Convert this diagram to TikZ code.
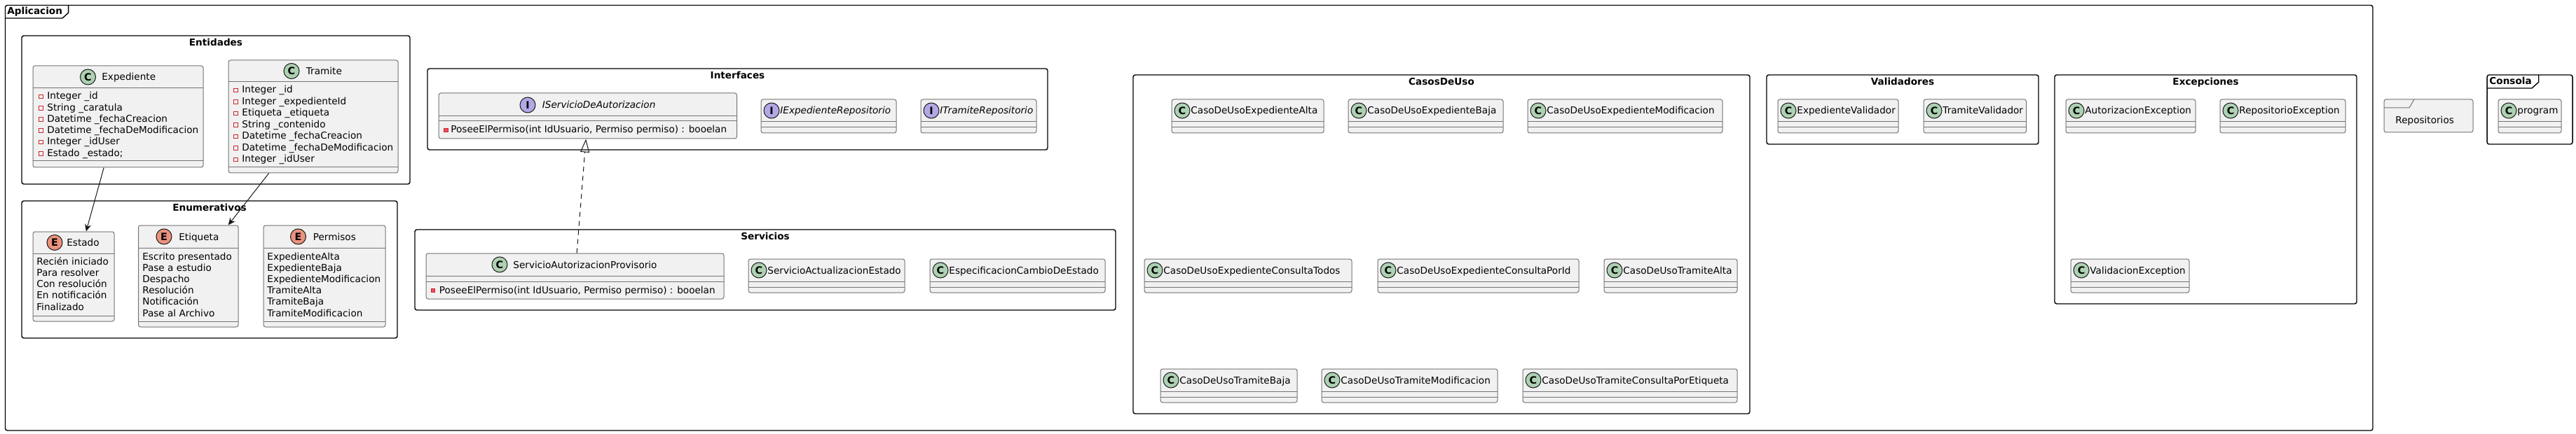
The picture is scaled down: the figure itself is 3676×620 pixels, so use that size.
\documentclass[tikz,border=0pt]{standalone}
\usepackage{fontspec}
\setmainfont{DejaVu Sans}
\usetikzlibrary{arrows.meta,fit}
\definecolor{clsfill}{HTML}{F1F1F1}
\definecolor{clsline}{HTML}{181818}
\definecolor{cgreen}{HTML}{ADD1B2}
\definecolor{ered}{HTML}{EB937F}
\definecolor{ipurple}{HTML}{B4A7E5}
\definecolor{privline}{HTML}{C82930}
\definecolor{privfill}{HTML}{F24D5C}
\newcommand\fs{\fontsize{6.8pt}{8.2pt}\selectfont}
\tikzset{
 cls/.style={draw=clsline!60, fill=clsfill, line width=0.5pt, rounded corners=1.5pt, inner sep=0pt},
 sepl/.style={draw=clsline!60, line width=0.5pt},
 pkg/.style={draw=black, line width=0.7pt, rounded corners=1.5pt, inner sep=0pt},
 pkgline/.style={draw=black, line width=0.7pt},
 ctitle/.style={font=\fs\bfseries, anchor=base, inner sep=0pt},
 txt/.style={font=\fs, anchor=base west, inner sep=0pt},
 btxt/.style={font=\fs\bfseries, anchor=base west, inner sep=0pt},
 spot/.style={circle, draw=clsline, line width=0.5pt, minimum size=11pt, inner sep=0pt, font=\fontsize{7.2pt}{8pt}\selectfont\bfseries},
 privf/.style={rectangle, draw=privline, line width=0.5pt, minimum size=2.8pt, inner sep=0pt},
 privm/.style={privf, fill=privfill},
 assoc/.style={draw=clsline, line width=0.5pt, -{Stealth[length=5pt,width=4.5pt,inset=1.5pt]}},
 realize/.style={draw=clsline, line width=0.5pt, dash pattern=on 3.5pt off 3pt, -{Triangle[open,length=9.5pt,width=6.5pt]}},
}
% name, x1, y1, x2, y2, sep1, sep2
\newcommand\clsframe[7]{%
 \node[cls, fit={(#2,#3) (#4,#5)}] (#1) {};
 \draw[sepl] (#2,#6) -- (#4,#6);
 \draw[sepl] (#2,#7) -- (#4,#7);}
% name, cx, cy, letter, colour, textx, label
\newcommand\clshead[7]{%
 \node[spot, fill=#5] (#1-s) at (#2,#3) {#4};
 \node[txt] (#1-n) at (#6,#3+5) {#7};}
% name, x1, x2, y1, letter, colour, label
\newcommand\compact[7]{%
 \clsframe{#1}{#2}{#4}{#3}{#4+48}{#4+32}{#4+40}
 \clshead{#1}{#2+15}{#4+16}{#5}{#6}{#2+27}{#7}}
% name, x1, y1, x2, y2, title
\newcommand\pkgbox[6]{%
 \node[pkg, fit={(#2,#3) (#4,#5)}] (#1) {};
 \node[ctitle] (#1-t) at ({(#2+#4)/2},#3+14.8) {#6};}
\begin{document}
\begin{tikzpicture}[x=0.5pt,y=-0.5pt]
\useasboundingbox (0,0) rectangle (3676,620);
\fill[white] (0,0) rectangle (3676,620);

% ---- Aplicacion frame
\node[pkg, fit={(7.5,7.5) (3386,615)}] (app) {};
\draw[pkgline] (7.5,26) -- (89,26) -- (97.6,18.3) -- (97.6,7.5);
\node[btxt] (app-t) at (10,21) {Aplicacion};

\pkgbox{ent}{31}{51}{585}{263}{Entidades}
\pkgbox{enu}{31}{287}{567}{483}{Enumerativos}
\pkgbox{intf}{610}{98}{1495}{214}{Interfaces}
\pkgbox{serv}{592}{328}{1592}{443}{Servicios}
\pkgbox{cdu}{1617}{107}{2497}{591}{CasosDeUso}
\pkgbox{val}{2521}{107}{2909}{206}{Validadores}
\pkgbox{exc}{2932}{107}{3363}{434}{Excepciones}

% ---- Entidades
\clsframe{exp}{47}{94}{290}{239}{126}{230}
\clshead{exp}{125.5}{110}{C}{cgreen}{145}{Expediente}
\foreach \t [count=\i from 0] in {Integer \_id,String \_caratula,Datetime \_fechaCreacion,Datetime \_fechaDeModificacion,Integer \_idUser,Estado \_estado;}{
 \node[privf] (exp-m\i) at (58.4,138+\i*16.25) {};
 \node[txt] (exp-f\i) at (67,142+\i*16.25) {\t};}

\clsframe{tram}{326}{86}{568}{247}{117}{239}
\clshead{tram}{416}{101.5}{C}{cgreen}{436.5}{Tramite}
\foreach \t [count=\i from 0] in {Integer \_id,Integer \_expedienteId,Etiqueta \_etiqueta,String \_contenido,Datetime \_fechaCreacion,Datetime \_fechaDeModificacion,Integer \_idUser}{
 \node[privf] (tram-m\i) at (336.5,129+\i*16.5) {};
 \node[txt] (tram-f\i) at (345,133+\i*16.5) {\t};}

% ---- Enumerativos
\clsframe{estado}{47}{331}{163}{459}{362}{451}
\clshead{estado}{78}{346.5}{E}{ered}{95}{Estado}
\foreach \t [count=\i from 0] in {Recién iniciado,Para resolver,Con resolución,En notificación,Finalizado}{
 \node[txt] (estado-v\i) at (52,378+\i*16.3) {\t};}

\clsframe{etiq}{197.5}{322}{340}{467}{354}{459}
\clshead{etiq}{234}{338}{E}{ered}{255}{Etiqueta}
\foreach \t [count=\i from 0] in {Escrito presentado,Pase a estudio,Despacho,Resolución,Notificación,Pase al Archivo}{
 \node[txt] (etiq-v\i) at (203,371+\i*16.2) {\t};}

\clsframe{perm}{376}{322}{550}{467}{354}{459}
\clshead{perm}{425.5}{338}{E}{ered}{446.5}{Permisos}
\foreach \t [count=\i from 0] in {ExpedienteAlta,ExpedienteBaja,ExpedienteModificacion,TramiteAlta,TramiteBaja,TramiteModificacion}{
 \node[txt] (perm-v\i) at (381,371+\i*16.2) {\t};}

% ---- Interfaces
\clsframe{iserv}{626}{133}{1051.5}{198}{166}{173}
\clshead{iserv}{753}{150}{I}{ipurple}{773.5}{\itshape IServicioDeAutorizacion}
\node[privm] (iserv-m) at (636.7,186) {};
\node[txt] (iserv-f) at (643,190) {PoseeElPermiso(int IdUsuario, Permiso permiso) : booelan};
\compact{iexp}{1086}{1279}{142}{I}{ipurple}{\itshape IExpedienteRepositorio}
\compact{itram}{1314}{1479}{142}{I}{ipurple}{\itshape ITramiteRepositorio}

% ---- Servicios
\clsframe{sap}{608}{362}{1033}{427}{394}{402}
\clshead{sap}{713}{378}{C}{cgreen}{732}{ServicioAutorizacionProvisorio}
\node[privm] (sap-m) at (618,415) {};
\node[txt] (sap-f) at (626.5,419) {PoseeElPermiso(int IdUsuario, Permiso permiso) : booelan};
\compact{sae}{1068}{1291}{370}{C}{cgreen}{ServicioActualizacionEstado}
\compact{ecde}{1327}{1577}{370}{C}{cgreen}{EspecificacionCambioDeEstado}

% ---- CasosDeUso
\compact{cu1}{1672}{1889}{142}{C}{cgreen}{CasoDeUsoExpedienteAlta}
\compact{cu2}{1924}{2145}{142}{C}{cgreen}{CasoDeUsoExpedienteBaja}
\compact{cu3}{2180}{2458}{142}{C}{cgreen}{CasoDeUsoExpedienteModificacion}
\compact{cu4}{1633}{1929}{370}{C}{cgreen}{CasoDeUsoExpedienteConsultaTodos}
\compact{cu5}{1966}{2253}{370}{C}{cgreen}{CasoDeUsoExpedienteConsultaPorId}
\compact{cu6}{2289}{2479}{370}{C}{cgreen}{CasoDeUsoTramiteAlta}
\compact{cu7}{1656}{1851}{527}{C}{cgreen}{CasoDeUsoTramiteBaja}
\compact{cu8}{1886}{2137}{527}{C}{cgreen}{CasoDeUsoTramiteModificacion}
\compact{cu9}{2173}{2479}{527}{C}{cgreen}{CasoDeUsoTramiteConsultaPorEtiqueta}

% ---- Validadores
\compact{ev}{2537}{2709}{142}{C}{cgreen}{ExpedienteValidador}
\compact{tv}{2745}{2891.5}{142}{C}{cgreen}{TramiteValidador}

% ---- Excepciones
\compact{ae}{2948}{3133}{142}{C}{cgreen}{AutorizacionException}
\compact{re}{3168}{3347}{142}{C}{cgreen}{RepositorioException}
\compact{ve}{2955}{3124}{370}{C}{cgreen}{ValidacionException}

% ---- Repositorios
\node[cls, fit={(3402,142) (3529,189)}] (repo) {};
\draw[sepl] (3402,154) -- (3438,154) -- (3445,142);
\node[txt] (repo-n) at (3418,176.5) {Repositorios};

% ---- Consola
\node[pkg, fit={(3549,107) (3671,206)}] (cons) {};
\draw[pkgline] (3549,126) -- (3613,126) -- (3622.7,117.3) -- (3622.7,107);
\node[btxt] (cons-t) at (3552,120.7) {Consola};
\compact{prog}{3565}{3655}{142}{C}{cgreen}{program}

% ---- connectors
\draw[assoc] (exp) -- (estado);
\draw[assoc] (tram) -- (etiq);
\draw[realize] (sap) -- (iserv);
\end{tikzpicture}
\end{document}
